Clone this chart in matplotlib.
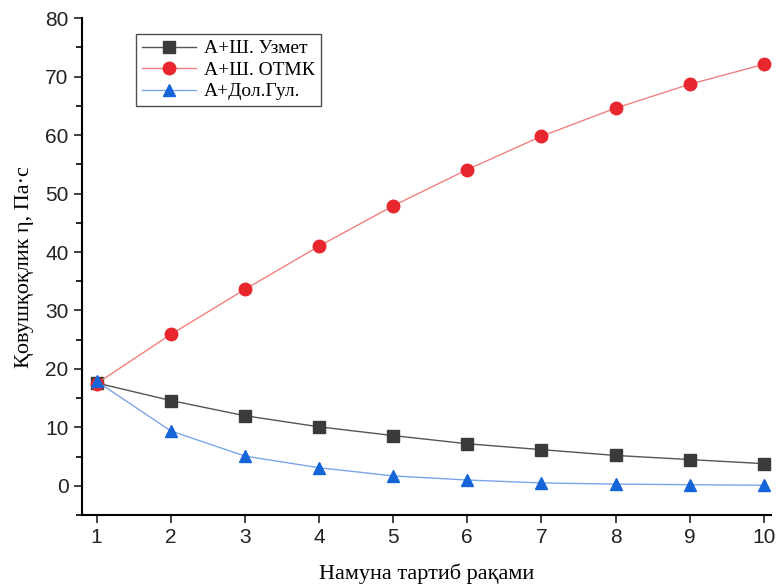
import matplotlib
matplotlib.use("Agg")
import matplotlib.pyplot as plt
from matplotlib.ticker import MultipleLocator

x = [1, 2, 3, 4, 5, 6, 7, 8, 9, 10]
uzmet = [17.6, 14.6, 12.0, 10.1, 8.6, 7.2, 6.2, 5.2, 4.5, 3.8]
otmk = [17.5, 25.9, 33.6, 41.0, 47.9, 54.1, 59.8, 64.6, 68.7, 72.1]
dol = [17.9, 9.4, 5.1, 3.1, 1.7, 1.0, 0.5, 0.3, 0.2, 0.1]
labels = ["А+Ш. Узмет", "А+Ш. ОТМК", "А+Дол.Гул."]

fig = plt.figure(figsize=(7.79, 5.86), dpi=100)
ax = fig.add_axes([0.105, 0.121, 0.885, 0.848])

ax.plot(x, uzmet, color="#555555", lw=1.0, marker="s", ms=8,
        mfc="#3a3a3a", mec="#3a3a3a", label=labels[0])
ax.plot(x, otmk, color="#f08080", lw=1.0, marker="o", ms=9,
        mfc="#e8262e", mec="#e8262e", label=labels[1])
ax.plot(x, dol, color="#7aa6e8", lw=1.0, marker="^", ms=9,
        mfc="#1565d8", mec="#1565d8", label=labels[2])

ax.set_xlim(0.8, 10.1)
ax.set_ylim(-5, 80)
ax.set_xticks(x)
ax.yaxis.set_major_locator(MultipleLocator(10))
ax.yaxis.set_minor_locator(MultipleLocator(5))
ax.tick_params(axis="both", direction="out", length=6, width=1.2,
               labelsize=15, colors="#222222")
ax.tick_params(axis="y", which="minor", direction="out", length=4, width=1.2)
for lab in ax.get_xticklabels() + ax.get_yticklabels():
    lab.set_family("Liberation Sans")
ax.spines["top"].set_visible(False)
ax.spines["right"].set_visible(False)
ax.spines["left"].set_linewidth(1.5)
ax.spines["bottom"].set_linewidth(1.5)

ax.set_xlabel("Намуна тартиб рақами", family="Liberation Serif", fontsize=16, labelpad=12)
ax.set_ylabel("Қовушқоқлик η, Па·с", family="Liberation Serif", fontsize=16, labelpad=8)

leg = ax.legend(loc="upper left", bbox_to_anchor=(0.07, 0.98),
                prop={"family": "Liberation Serif", "size": 14},
                frameon=True, fancybox=False, edgecolor="#222222",
                handlelength=2.8, borderpad=0.3, labelspacing=0.2,
                handletextpad=0.4, borderaxespad=0.3)
leg.get_frame().set_linewidth(1.0)

fig.savefig("out.png", dpi=100)
